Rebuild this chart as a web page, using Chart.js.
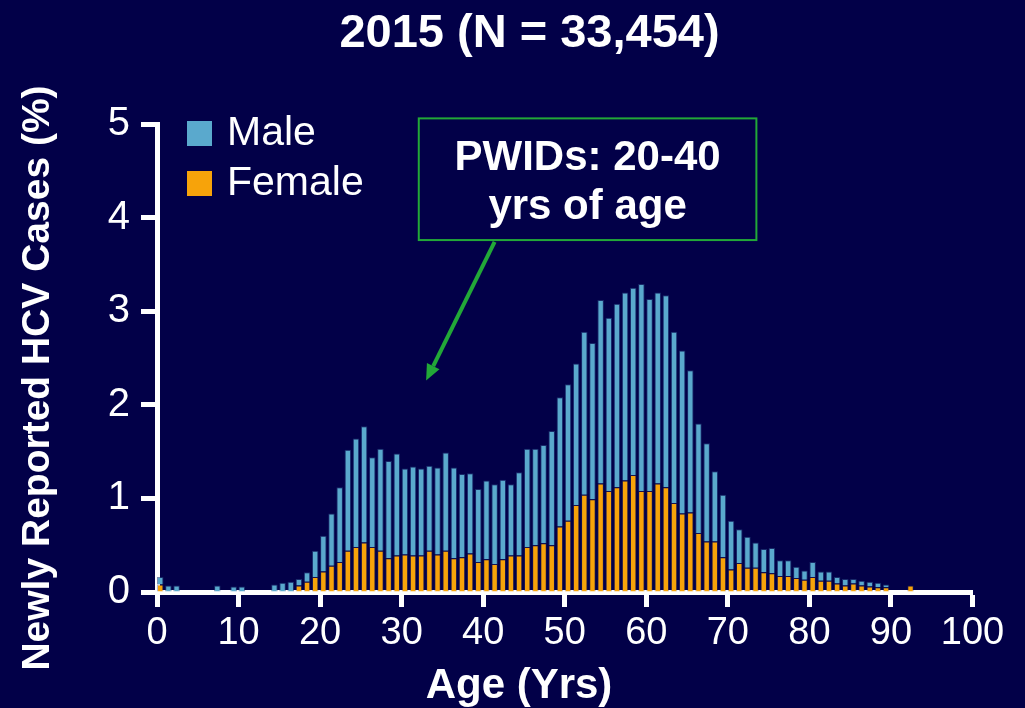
<!DOCTYPE html>
<html>
<head>
<meta charset="utf-8">
<title>Newly Reported HCV Cases by Age, 2015</title>
<script src="https://cdn.jsdelivr.net/npm/chart.js@4.4.0/dist/chart.umd.min.js"></script>
<style>
  html, body { margin: 0; padding: 0; background: #020048; }
  #wrap { width: 1025px; height: 708px; }
</style>
</head>
<body>
<div id="wrap"><canvas id="chart" width="1025" height="708"></canvas></div>
<script>
'use strict';

// ages in whole years, one bar per year
const ages = [
  0, 1, 2, 3, 4, 5, 6, 7, 8, 9,
  10, 11, 12, 13, 14, 15, 16, 17, 18, 19,
  20, 21, 22, 23, 24, 25, 26, 27, 28, 29,
  30, 31, 32, 33, 34, 35, 36, 37, 38, 39,
  40, 41, 42, 43, 44, 45, 46, 47, 48, 49,
  50, 51, 52, 53, 54, 55, 56, 57, 58, 59,
  60, 61, 62, 63, 64, 65, 66, 67, 68, 69,
  70, 71, 72, 73, 74, 75, 76, 77, 78, 79,
  80, 81, 82, 83, 84, 85, 86, 87, 88, 89,
  90, 91, 92
];

// % of all newly reported cases
const femaleValues = [
  0.08, 0, 0, 0, 0, 0, 0, 0, 0, 0,
  0, 0, 0, 0, 0, 0, 0, 0.07, 0.11, 0.16,
  0.22, 0.28, 0.32, 0.44, 0.48, 0.53, 0.48, 0.44, 0.36, 0.39,
  0.40, 0.39, 0.39, 0.44, 0.40, 0.44, 0.36, 0.37, 0.41, 0.32,
  0.35, 0.30, 0.35, 0.39, 0.39, 0.48, 0.50, 0.52, 0.50, 0.70,
  0.76, 0.93, 1.04, 0.99, 1.16, 1.08, 1.12, 1.19, 1.25, 1.08,
  1.08, 1.16, 1.12, 0.95, 0.84, 0.85, 0.63, 0.54, 0.54, 0.37,
  0.24, 0.31, 0.26, 0.26, 0.21, 0.20, 0.17, 0.17, 0.15, 0.13,
  0.16, 0.12, 0.12, 0.09, 0.07, 0.09, 0.07, 0.06, 0.05, 0.05,
  0, 0, 0.07
];

const maleValues = [
  0.08, 0.07, 0.07, 0, 0, 0, 0, 0.07, 0, 0.06,
  0.06, 0, 0, 0, 0.08, 0.10, 0.11, 0.07, 0.10, 0.28,
  0.38, 0.56, 0.80, 1.08, 1.16, 1.24, 0.96, 1.09, 1.04, 1.09,
  0.92, 0.95, 0.93, 0.91, 0.93, 1.05, 0.97, 0.89, 0.86, 0.78,
  0.84, 0.85, 0.85, 0.76, 0.89, 1.05, 1.03, 1.05, 1.22, 1.38,
  1.46, 1.51, 1.74, 1.67, 1.96, 1.85, 1.96, 2.01, 2.00, 2.21,
  2.05, 2.04, 2.05, 1.83, 1.74, 1.52, 1.17, 1.05, 0.75, 0.67,
  0.52, 0.36, 0.33, 0.27, 0.25, 0.27, 0.17, 0.17, 0.12, 0.10,
  0.16, 0.10, 0.10, 0.07, 0.07, 0.05, 0.05, 0.05, 0.05, 0.03,
  0, 0, 0
];

const xTickValues = [0, 10, 20, 30, 40, 50, 60, 70, 80, 90, 100];
const yTickValues = [0, 1, 2, 3, 4, 5];

const TITLE = '2015 (N = 33,454)';
const X_TITLE = 'Age (Yrs)';
const Y_TITLE = 'Newly Reported HCV Cases (%)';
const CALLOUT = ['PWIDs: 20-40', 'yrs of age'];

const BG = '#020048';
const BLUE = '#5aa9cd';
const ORANGE = '#f7a30a';
const GREEN = '#22a838';
const WHITE = '#ffffff';
const FONT = '"Liberation Sans", Arial, Helvetica, sans-serif';

// bar sits in the middle-ish of its one-year bin
const BIN_CENTER = 0.4;

// callout box and arrow, in data units (age, %)
const calloutBox = { x0: 32.1, x1: 73.5, yTop: 5.06, yBottom: 3.76 };
const arrowFrom = { x: 41.4, y: 3.74 };
const arrowTo = { x: 33.0, y: 2.26 };

function toPoints(values) {
  return ages.map((age, i) => ({ x: age + BIN_CENTER, y: values[i] > 0 ? values[i] : null }));
}

const slideDecor = {
  id: 'slideDecor',
  beforeDraw(chart) {
    const ctx = chart.ctx;
    ctx.save();
    ctx.fillStyle = BG;
    ctx.fillRect(0, 0, chart.width, chart.height);
    ctx.restore();
  },
  afterDraw(chart) {
    const { ctx, chartArea } = chart;
    const x = chart.scales.x;
    const y = chart.scales.y;

    ctx.save();
    ctx.fillStyle = WHITE;

    // title
    ctx.font = 'bold 47px ' + FONT;
    ctx.textAlign = 'center';
    ctx.textBaseline = 'alphabetic';
    ctx.fillText(TITLE, chart.width / 2 + 17, 47);

    // x axis title
    ctx.font = 'bold 42px ' + FONT;
    ctx.fillText(X_TITLE, 519, chartArea.bottom + 106);

    // y axis title
    ctx.save();
    ctx.translate(38, (chartArea.top + chartArea.bottom) / 2 + 20);
    ctx.rotate(-Math.PI / 2);
    ctx.font = 'bold 39px ' + FONT;
    ctx.textBaseline = 'middle';
    ctx.fillText(Y_TITLE, 0, 0);
    ctx.restore();

    // legend, Male on top
    const items = chart.data.datasets.slice().reverse();
    ctx.font = '41px ' + FONT;
    ctx.textAlign = 'left';
    ctx.textBaseline = 'middle';
    items.forEach((ds, i) => {
      const top = chartArea.top - 3 + i * 50;
      ctx.fillStyle = ds.backgroundColor;
      ctx.fillRect(chartArea.left + 30, top, 25, 25);
      ctx.fillStyle = WHITE;
      ctx.fillText(ds.label, chartArea.left + 70, top + 13);
    });

    // callout box
    const bx0 = x.getPixelForValue(calloutBox.x0);
    const bx1 = x.getPixelForValue(calloutBox.x1);
    const by0 = y.getPixelForValue(calloutBox.yTop);
    const by1 = y.getPixelForValue(calloutBox.yBottom);
    ctx.strokeStyle = GREEN;
    ctx.lineWidth = 2;
    ctx.strokeRect(bx0, by0, bx1 - bx0, by1 - by0);

    ctx.fillStyle = WHITE;
    ctx.font = 'bold 42px ' + FONT;
    ctx.textAlign = 'center';
    ctx.textBaseline = 'alphabetic';
    const cx = (bx0 + bx1) / 2;
    ctx.fillText(CALLOUT[0], cx, by0 + 52);
    ctx.fillText(CALLOUT[1], cx, by0 + 101);

    // arrow
    const ax0 = x.getPixelForValue(arrowFrom.x);
    const ay0 = y.getPixelForValue(arrowFrom.y);
    const ax1 = x.getPixelForValue(arrowTo.x);
    const ay1 = y.getPixelForValue(arrowTo.y);
    const ang = Math.atan2(ay1 - ay0, ax1 - ax0);
    const headLen = 16, headHalf = 7;
    const baseX = ax1 - headLen * Math.cos(ang);
    const baseY = ay1 - headLen * Math.sin(ang);
    ctx.strokeStyle = GREEN;
    ctx.fillStyle = GREEN;
    ctx.lineWidth = 4;
    ctx.beginPath();
    ctx.moveTo(ax0, ay0);
    ctx.lineTo(baseX, baseY);
    ctx.stroke();
    ctx.beginPath();
    ctx.moveTo(ax1, ay1);
    ctx.lineTo(baseX + headHalf * Math.sin(ang), baseY - headHalf * Math.cos(ang));
    ctx.lineTo(baseX - headHalf * Math.sin(ang), baseY + headHalf * Math.cos(ang));
    ctx.closePath();
    ctx.fill();

    ctx.restore();
  }
};

const axisGrid = {
  display: true,
  drawOnChartArea: false,
  drawTicks: true,
  offset: false,
  tickColor: WHITE,
  tickWidth: 5
};

new Chart(document.getElementById('chart'), {
  type: 'bar',
  data: {
    datasets: [
      {
        label: 'Female',
        data: toPoints(femaleValues),
        backgroundColor: ORANGE,
        borderColor: 'rgba(60, 50, 90, 0.35)',
        borderWidth: 1,
        barPercentage: 0.8,
        categoryPercentage: 1
      },
      {
        label: 'Male',
        data: toPoints(maleValues),
        backgroundColor: BLUE,
        borderColor: 'rgba(40, 70, 130, 0.6)',
        borderWidth: 1,
        barPercentage: 0.8,
        categoryPercentage: 1
      }
    ]
  },
  options: {
    responsive: false,
    devicePixelRatio: 1,
    animation: false,
    layout: { padding: { top: 124, right: 52.5, bottom: 0, left: 0 } },
    plugins: {
      legend: { display: false },
      title: { display: false },
      tooltip: { enabled: false }
    },
    scales: {
      x: {
        type: 'linear',
        min: 0,
        max: 100,
        offset: false,
        stacked: true,
        z: 1,
        afterFit: (scale) => { scale.height = 116; },
        afterBuildTicks: (scale) => { scale.ticks = xTickValues.map((v) => ({ value: v })); },
        ticks: {
          color: WHITE,
          font: { family: FONT, size: 38 },
          padding: 4,
          maxRotation: 0,
          autoSkip: false
        },
        grid: Object.assign({}, axisGrid, { tickLength: 15 }),
        border: { display: true, color: WHITE, width: 5 }
      },
      y: {
        min: 0,
        max: 5,
        stacked: true,
        z: 1,
        afterFit: (scale) => { scale.width = 157; },
        afterBuildTicks: (scale) => { scale.ticks = yTickValues.map((v) => ({ value: v })); },
        ticks: {
          color: WHITE,
          font: { family: FONT, size: 40 },
          padding: 11
        },
        grid: Object.assign({}, axisGrid, { tickLength: 16 }),
        border: { display: true, color: WHITE, width: 5 }
      }
    }
  },
  plugins: [slideDecor]
});
</script>
</body>
</html>
